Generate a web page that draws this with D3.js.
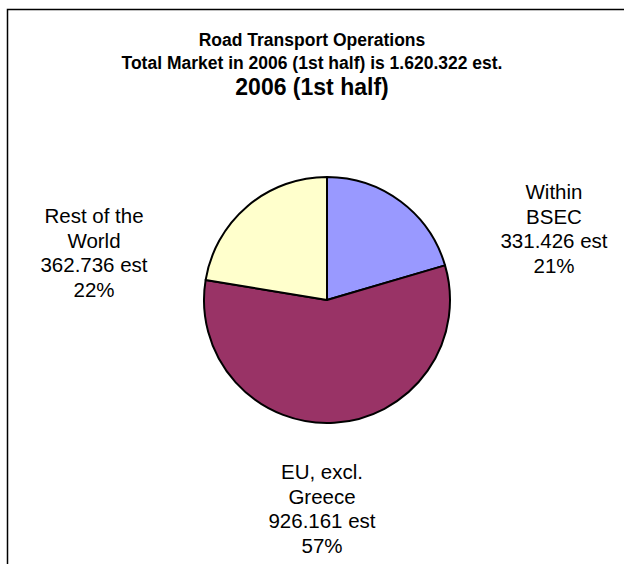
<!DOCTYPE html>
<html>
<head>
<meta charset="utf-8">
<script src="https://cdn.jsdelivr.net/npm/d3@7/dist/d3.min.js"></script>
<style>
  html, body { margin: 0; padding: 0; background: #fff; }
  svg { display: block; }
  text { font-family: "Liberation Sans", Arial, sans-serif; fill: #000; }
</style>
</head>
<body>
<div id="chart"></div>
<script>
// ---- data ----
const categories = ["Within BSEC", "EU, excl. Greece", "Rest of the World"];
const labelLines = [["Within", "BSEC"], ["EU, excl.", "Greece"], ["Rest of the", "World"]];
const values = [331426, 926161, 362736];
const percentLabels = ["21%", "57%", "22%"];
const colors = ["#9999FF", "#993366", "#FFFFCC"];
const titleLines = ["Road Transport Operations", "Total Market in 2006 (1st half) is 1.620.322 est."];
const subtitle = "2006 (1st half)";

// ---- layout ----
const W = 624, H = 564;
const cx = 327, cy = 300, R = 123;
// label block centres (x, y of first baseline) per slice
const labelPos = [[554, 199], [322, 479], [94, 223]];
const lineH = 24.5;

const locale = d3.formatLocale({decimal: ",", thousands: ".", grouping: [3], currency: ["", ""]});
const fmt = locale.format(",d");

const svg = d3.select("#chart").append("svg").attr("width", W).attr("height", H);
svg.append("rect").attr("width", W).attr("height", H).attr("fill", "#fff");

// frame (extends beyond right/bottom edge)
svg.append("rect")
  .attr("x", 7.5).attr("y", 9.5)
  .attr("width", W + 20).attr("height", H + 20)
  .attr("fill", "none").attr("stroke", "#000").attr("stroke-width", 1.5);

// titles
svg.selectAll("text.title").data(titleLines).join("text")
  .attr("class", "title")
  .attr("x", 312).attr("y", (d, i) => 46 + i * 23)
  .attr("text-anchor", "middle")
  .attr("font-size", 17.5).attr("font-weight", "bold")
  .text(d => d);
svg.append("text")
  .attr("x", 312).attr("y", 95)
  .attr("text-anchor", "middle")
  .attr("font-size", 23).attr("font-weight", "bold")
  .text(subtitle);

// pie
const pie = d3.pie().sort(null).value(d => d)(values);
const arc = d3.arc().innerRadius(0).outerRadius(R);
const g = svg.append("g").attr("transform", `translate(${cx},${cy})`);
g.selectAll("path").data(pie).join("path")
  .attr("d", arc)
  .attr("fill", (d, i) => colors[i])
  .attr("stroke", "#000").attr("stroke-width", 2).attr("stroke-linejoin", "round");

// labels
categories.forEach((c, i) => {
  const lines = [...labelLines[i], fmt(values[i]) + " est", percentLabels[i]];
  const t = svg.append("text")
    .attr("text-anchor", "middle")
    .attr("font-size", 20.5);
  lines.forEach((l, j) => {
    t.append("tspan").attr("x", labelPos[i][0]).attr("y", labelPos[i][1] + j * lineH).text(l);
  });
});
</script>
</body>
</html>
